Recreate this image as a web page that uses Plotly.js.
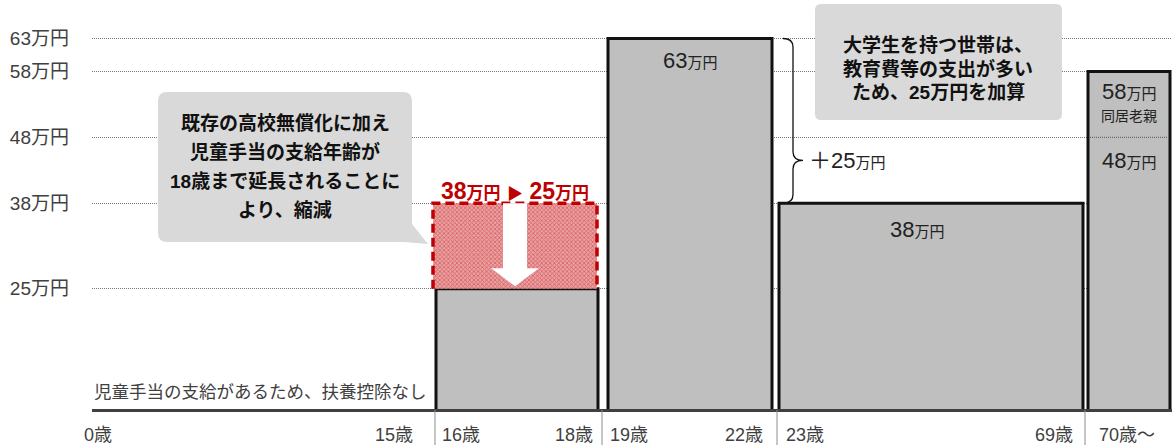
<!DOCTYPE html>
<html>
<head>
<meta charset="utf-8">
<script src="https://cdn.plot.ly/plotly-3.0.1.min.js"></script>
<style>html,body{margin:0;padding:0;background:#fff;}#chart{width:1172px;height:445px;}</style>
</head>
<body>
<div id="chart"></div>
<script>
// ---------------- data ----------------
const ageGroups       = ['0〜15歳', '16〜18歳', '19〜22歳', '23〜69歳', '70歳〜'];
const deduction       = [null, 25, 63, 38, 58];          // 扶養控除額（万円）
const previous16to18  = 38;                              // 縮減前（万円）
const elderOther      = 48;                              // 70歳〜 同居老親以外（万円）
const collegeAddition = 25;                              // 大学生加算（万円）
const yTicks          = [25, 38, 48, 58, 63];
const ageStartLabels  = ['0歳', '16歳', '19歳', '23歳', '70歳〜'];
const ageEndLabels    = ['15歳', '18歳', '22歳', '69歳', null];

// ---------------- layout constants ----------------
const FONT = 'Liberation Sans, "Noto Sans CJK JP", sans-serif';
const PL = 92, PR = 1172, PH = 409;               // plot area in px
const YR = [6.74, 68.85];                         // y range (値)
const segEdges = [92, 435, 602, 777, 1085, 1172]; // x-axis units = px
const barSpan  = [null, [436, 598], [608, 772], [779, 1083], [1088, 1170]];
const hatchSpan = [433, 597];
const Y  = py => YR[1] - py * (YR[1] - YR[0]) / PH;  // px -> value
const PX = px => (px - PL) / (PR - PL);              // px -> paper x
const PY = py => 1 - py / PH;                        // px -> paper y

// ---------------- traces ----------------
const bx = [], bw = [], by = [];
deduction.forEach((v, i) => {
  if (v == null || !barSpan[i]) return;
  bx.push((barSpan[i][0] + barSpan[i][1]) / 2);
  bw.push(barSpan[i][1] - barSpan[i][0]);
  by.push(v);
});
const mainBars = {
  type: 'bar', x: bx, y: by, width: bw, hoverinfo: 'skip',
  marker: {color: '#bfbfbf', line: {color: '#111', width: 3}}
};
const hatchBar = {
  type: 'bar', x: [(hatchSpan[0] + hatchSpan[1]) / 2], width: [hatchSpan[1] - hatchSpan[0]],
  base: [deduction[1]], y: [previous16to18 - deduction[1]], hoverinfo: 'skip',
  marker: {color: '#e9a0a0', line: {width: 0},
           pattern: {shape: 'x', fgcolor: '#c8202a', size: 3, solidity: 0.45, fillmode: 'overlay'}}
};

// ---------------- shapes ----------------
function rrect(x0, y0, x1, y1, r, tail) {
  let p = `M ${x0 + r},${Y(y0)} L ${x1 - r},${Y(y0)} Q ${x1},${Y(y0)} ${x1},${Y(y0 + r)} `;
  if (tail) {
    p += `L ${x1},${Y(tail[0])} L ${tail[1]},${Y(tail[2])} L ${tail[3]},${Y(y1)} `;
  } else {
    p += `L ${x1},${Y(y1 - r)} Q ${x1},${Y(y1)} ${x1 - r},${Y(y1)} `;
  }
  p += `L ${x0 + r},${Y(y1)} Q ${x0},${Y(y1)} ${x0},${Y(y1 - r)} L ${x0},${Y(y0 + r)} Q ${x0},${Y(y0)} ${x0 + r},${Y(y0)} Z`;
  return p;
}
const shapes = [];
// callout boxes
shapes.push({type: 'path', xref: 'x', yref: 'y', layer: 'above', fillcolor: '#d9d9d9', line: {width: 0},
  path: rrect(158, 92, 412, 242, 9, [224, 428, 244, 404])});
shapes.push({type: 'path', xref: 'x', yref: 'y', layer: 'above', fillcolor: '#d9d9d9', line: {width: 0},
  path: rrect(815, 4, 1062, 120, 6, null)});
// dashed outline of reduced part
shapes.push({type: 'path', xref: 'x', yref: 'y', layer: 'above', line: {color: '#c00000', width: 3.5, dash: '9px,5px'},
  path: `M ${hatchSpan[0]},${deduction[1]} L ${hatchSpan[0]},${previous16to18} L ${hatchSpan[1]},${previous16to18} L ${hatchSpan[1]},${deduction[1]}`});
// white down arrow
(function () {
  const cx = (hatchSpan[0] + hatchSpan[1]) / 2, h = previous16to18 - deduction[1];
  const top = previous16to18, headBase = deduction[1] + 0.24 * h, tip = deduction[1] + 0.03 * h;
  shapes.push({type: 'path', xref: 'x', yref: 'y', layer: 'above', fillcolor: '#ffffff', line: {width: 0},
    path: `M ${cx - 12},${top} L ${cx + 12},${top} L ${cx + 12},${headBase} L ${cx + 24},${headBase} L ${cx},${tip} L ${cx - 24},${headBase} L ${cx - 12},${headBase} Z`});
})();
// 48 line inside 70歳〜 bar
shapes.push({type: 'line', xref: 'x', yref: 'y', layer: 'above', x0: barSpan[4][0] + 2, x1: barSpan[4][1] - 2,
  y0: elderOther, y1: elderOther, line: {color: '#555', width: 1, dash: '1px,1px'}});
// brace (+25万円)
const bTop = deduction[2], bBot = deduction[2] - collegeAddition, bTip = bTop - 0.74 * collegeAddition, d = 1.3;
shapes.push({type: 'path', xref: 'x', yref: 'y', layer: 'above', line: {color: '#111', width: 1.3},
  path: `M 783,${bTop} Q 793,${bTop} 793,${bTop - d} L 793,${bTip + d} Q 793,${bTip} 803,${bTip} Q 793,${bTip} 793,${bTip - d} L 793,${bBot + d} Q 793,${bBot} 783,${bBot}`});
// separators under baseline
segEdges.slice(1, -1).forEach(e => {
  shapes.push({type: 'line', xref: 'paper', yref: 'paper', x0: PX(e), x1: PX(e), y0: PY(PH + 1), y1: PY(445),
    line: {color: '#8c8c8c', width: 1}});
});

// ---------------- annotations ----------------
const ann = [];
const man = (n, s) => `${n}<span style="font-size:${s}px">万円</span>`;
// age labels
const labelY = PY(435);
const startPad = [-10, 5, 6, 7, 12], endPad = [20, 7, 12, 10];
ageStartLabels.forEach((t, i) => {
  ann.push({xref: 'paper', yref: 'paper', x: PX(segEdges[i] + startPad[i]), y: labelY, xanchor: 'left', yanchor: 'middle',
    text: t, showarrow: false, font: {size: 18, color: '#404040'}});
});
ageEndLabels.forEach((t, i) => {
  if (!t) return;
  ann.push({xref: 'paper', yref: 'paper', x: PX(segEdges[i + 1] - endPad[i]), y: labelY, xanchor: 'right', yanchor: 'middle',
    text: t, showarrow: false, font: {size: 18, color: '#404040'}});
});
// note for 0-15
ann.push({xref: 'paper', yref: 'paper', x: PX(92), y: PY(392), xanchor: 'left', yanchor: 'middle',
  text: '児童手当の支給があるため、扶養控除なし', showarrow: false, font: {size: 17.5, color: '#404040'}});
// bar labels
ann.push({xref: 'x', yref: 'y', x: (barSpan[2][0] + barSpan[2][1]) / 2, y: deduction[2], yanchor: 'middle', yshift: -22,
  text: man(deduction[2], 15), showarrow: false, font: {size: 22, color: '#222'}});
ann.push({xref: 'x', yref: 'y', x: 917, y: deduction[3], yanchor: 'middle', yshift: -26,
  text: man(deduction[3], 15), showarrow: false, font: {size: 22, color: '#222'}});
const ex = (barSpan[4][0] + barSpan[4][1]) / 2;
ann.push({xref: 'x', yref: 'y', x: ex, y: deduction[4], yanchor: 'middle', yshift: -20,
  text: man(deduction[4], 15), showarrow: false, font: {size: 22, color: '#222'}});
ann.push({xref: 'x', yref: 'y', x: ex, y: deduction[4], yanchor: 'middle', yshift: -45,
  text: '同居老親', showarrow: false, font: {size: 14, color: '#222'}});
ann.push({xref: 'x', yref: 'y', x: ex, y: elderOther, yanchor: 'middle', yshift: -23,
  text: man(elderOther, 15), showarrow: false, font: {size: 22, color: '#222'}});
// red label
ann.push({xref: 'x', yref: 'y', x: (hatchSpan[0] + hatchSpan[1]) / 2, y: previous16to18, yanchor: 'middle', yshift: 12,
  text: `<b>${man(previous16to18, 17)} <span style="font-size:16px">▶</span> ${man(deduction[1], 17)}</b>`,
  showarrow: false, font: {size: 23, color: '#c00000'}});
// +25万円
ann.push({xref: 'x', yref: 'y', x: 807, y: bTip, xanchor: 'left', yanchor: 'middle',
  text: '＋' + man(collegeAddition, 15), showarrow: false, font: {size: 22, color: '#222'}});
// callout texts
const leftLines = ['既存の高校無償化に加え', '児童手当の支給年齢が', '18歳まで延長されることに', 'より、縮減'];
const leftY = [123, 152, 181, 210];
leftLines.forEach((t, i) => ann.push({xref: 'x', yref: 'y', x: 285, y: Y(leftY[i]), yanchor: 'middle',
  text: `<b>${t}</b>`, showarrow: false, font: {size: 19, color: '#111'}}));
const rightLines = ['大学生を持つ世帯は、', '教育費等の支出が多い', 'ため、25万円を加算'];
const rightY = [45, 68.5, 92];
rightLines.forEach((t, i) => ann.push({xref: 'x', yref: 'y', x: 938, y: Y(rightY[i]), yanchor: 'middle',
  text: `<b>${t}</b>`, showarrow: false, font: {size: 19, color: '#111'}}));

const layout = {
  width: 1172, height: 445, margin: {l: PL, r: 1172 - PR, t: 0, b: 445 - PH},
  paper_bgcolor: '#fff', plot_bgcolor: '#fff', showlegend: false, barmode: 'overlay',
  font: {family: FONT, color: '#333'},
  xaxis: {range: [PL, PR], showgrid: false, zeroline: false, showticklabels: false, ticks: '',
          showline: true, linecolor: '#404040', linewidth: 3, fixedrange: true},
  yaxis: {range: YR, tickvals: yTicks, ticktext: yTicks.map(v => v + '万円'), ticks: '',
          showgrid: true, gridcolor: '#777777', gridwidth: 1, griddash: '1px,1px', zeroline: false,
          showline: false, ticklabelstandoff: 22, tickfont: {size: 19, color: '#404040'}, fixedrange: true},
  shapes: shapes, annotations: ann
};
Plotly.newPlot('chart', [mainBars, hatchBar], layout, {displayModeBar: false, staticPlot: true});
</script>
</body>
</html>
